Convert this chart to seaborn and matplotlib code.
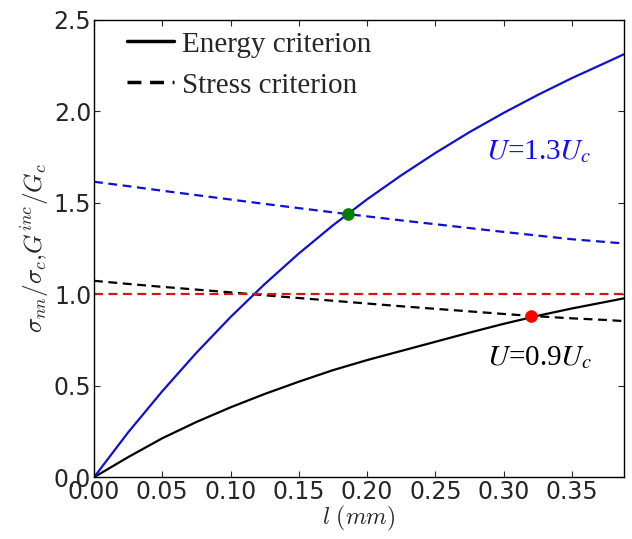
import matplotlib
matplotlib.use("Agg")
import numpy as np
import pandas as pd
import seaborn as sns
import matplotlib.pyplot as plt

# crack length l (mm)
l_vals = [0.0, 0.025, 0.05, 0.075, 0.10, 0.125, 0.15, 0.175, 0.20, 0.225,
          0.25, 0.275, 0.30, 0.325, 0.35, 0.375, 0.388]

# energy criterion G_inc/G_c
energy_13 = [0.0, 0.245, 0.47, 0.68, 0.875, 1.055, 1.222, 1.376, 1.518, 1.649,
             1.771, 1.885, 1.99, 2.088, 2.18, 2.265, 2.31]
energy_09 = [0.0, 0.11, 0.213, 0.302, 0.382, 0.455, 0.522, 0.585, 0.64, 0.69,
             0.74, 0.79, 0.838, 0.882, 0.922, 0.958, 0.977]

# stress criterion sigma_nn/sigma_c
stress_13 = [1.614, 1.59, 1.565, 1.541, 1.517, 1.493, 1.47, 1.447, 1.425, 1.403,
             1.382, 1.361, 1.34, 1.32, 1.30, 1.285, 1.277]
stress_09 = [1.073, 1.056, 1.04, 1.025, 1.01, 0.994, 0.979, 0.964, 0.949, 0.934,
             0.92, 0.906, 0.892, 0.879, 0.868, 0.859, 0.853]

crit_x = [0.0, 0.388]
crit_y = [1.0, 1.0]

# crossing points
green_pt = (0.1857, 1.436)
red_pt = (0.320, 0.880)

sns.set_style("white")
plt.rcParams.update({
    "xtick.direction": "in", "ytick.direction": "in",
    "xtick.top": True, "ytick.right": True,
    "xtick.major.size": 4, "ytick.major.size": 4,
    "xtick.bottom": True, "ytick.left": True,
    "axes.edgecolor": "black", "axes.linewidth": 1.0,
    "mathtext.fontset": "cm",
})

fig = plt.figure(figsize=(6.32, 5.39), dpi=100)
ax = fig.add_axes([0.1487, 0.1145, 0.8383, 0.8493])

df = pd.DataFrame({"l": l_vals, "e13": energy_13, "e09": energy_09,
                   "s13": stress_13, "s09": stress_09})

dash = (0, (4, 2.5))
sns.lineplot(data=df, x="l", y="e09", color="black", lw=1.6, ax=ax, label="Energy criterion")
sns.lineplot(data=df, x="l", y="s09", color="black", lw=1.6, linestyle=dash, ax=ax,
             label="Stress criterion")
sns.lineplot(data=df, x="l", y="e13", color="#1010d0", lw=1.6, ax=ax)
sns.lineplot(data=df, x="l", y="s13", color="#1010d0", lw=1.6, linestyle=dash, ax=ax)
sns.lineplot(x=crit_x, y=crit_y, color="#e01010", lw=1.6, linestyle=dash, ax=ax)

sns.scatterplot(x=[green_pt[0]], y=[green_pt[1]], color="#008000", s=70, zorder=5,
                edgecolor="#008000", ax=ax)
sns.scatterplot(x=[red_pt[0]], y=[red_pt[1]], color="red", s=70, zorder=5,
                edgecolor="red", ax=ax)

ax.text(0.287, 1.776, "$U$=1.3$U_c$", color="#1010f0", fontsize=21,
        family="Liberation Serif", math_fontfamily="stix", va="center")
ax.text(0.288, 0.651, "$U$=0.9$U_c$", color="black", fontsize=21,
        family="Liberation Serif", math_fontfamily="stix", va="center")

ax.set_xlim(0, 0.388)
ax.set_ylim(0, 2.5)
ax.set_xticks(np.arange(0, 0.36, 0.05))
ax.set_yticks(np.arange(0, 2.51, 0.5))
ax.tick_params(labelsize=17, pad=2)
ax.set_xlabel("$l\\ (mm)$", fontsize=17, labelpad=0)
ax.set_ylabel("$\\sigma_{nn}/\\sigma_c{,}G^{inc}/G_c$", fontsize=18, labelpad=2)
for s in ax.spines.values():
    s.set_visible(True)

leg = ax.legend(loc="upper left", bbox_to_anchor=(0.04, 1.0), borderaxespad=0, frameon=False,
                prop={"family": "Liberation Serif", "size": 21},
                handlelength=1.6, labelspacing=0.5, handletextpad=0.3)
for h in leg.get_lines():
    h.set_linewidth(2.5)

fig.savefig("out.png", dpi=100)
